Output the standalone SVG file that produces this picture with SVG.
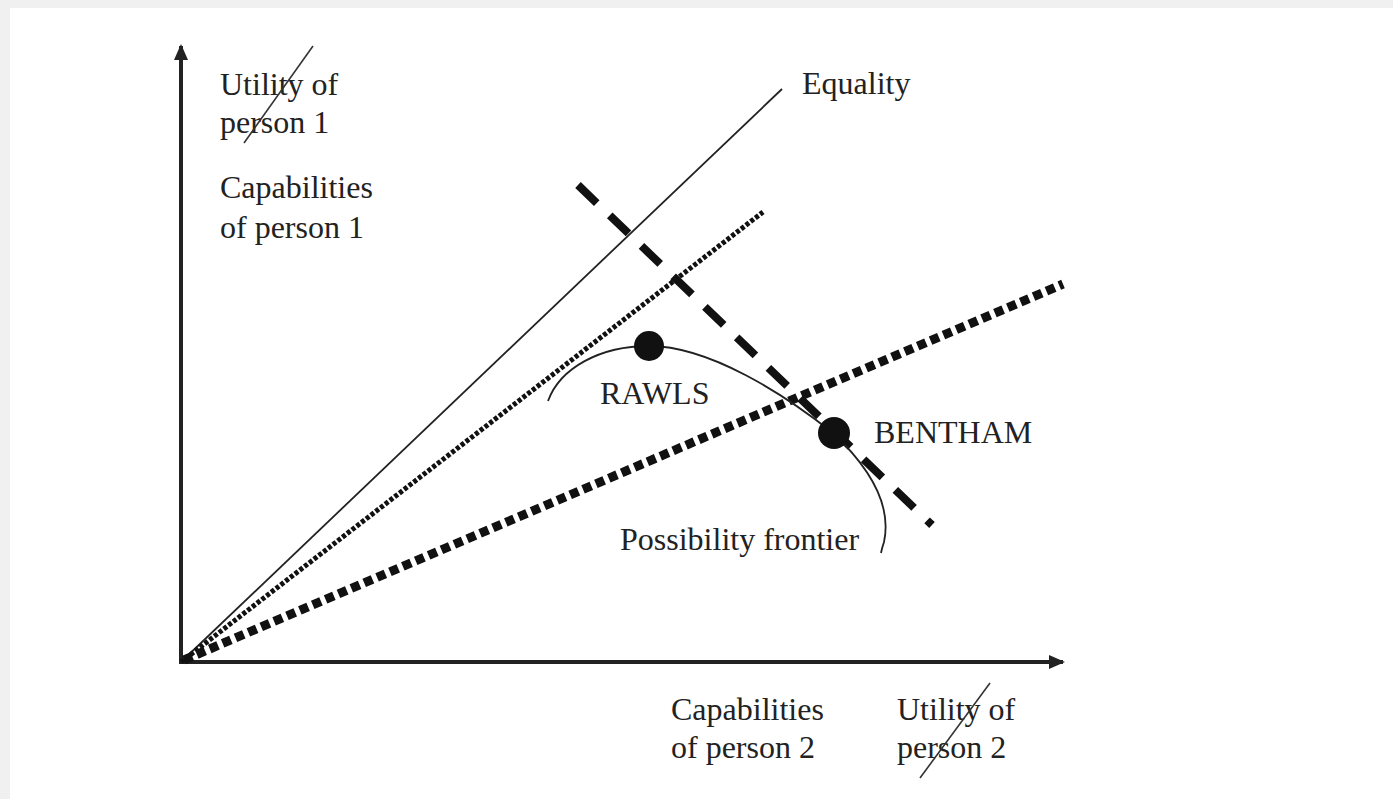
<svg xmlns="http://www.w3.org/2000/svg" width="1393" height="799" viewBox="0 0 1393 799">
<defs>
<style>
text{font-family:"Liberation Serif","Times New Roman",serif;font-size:32px;fill:#222}
.ax{stroke:#222;stroke-width:4;fill:none}
.thin{stroke:#222;stroke-width:1.8;fill:none}
.strike{stroke:#333;stroke-width:1.6}
</style>
<marker id="arr" viewBox="0 0 16 14" refX="14" refY="7" markerWidth="16" markerHeight="14" markerUnits="userSpaceOnUse" orient="auto">
<path d="M0,0 L16,7 L0,14 Z" fill="#222"/>
</marker>
</defs>
<rect x="0" y="0" width="1393" height="799" fill="#f0f0f0"/>
<rect x="10" y="8" width="1383" height="791" fill="#ffffff"/>
<g id="connectors">
<line class="ax" x1="181" y1="663" x2="181" y2="46" marker-end="url(#arr)"/>
<line class="ax" x1="179" y1="662" x2="1063" y2="662" marker-end="url(#arr)"/>
<line id="equality-line" class="thin" x1="181" y1="662" x2="782" y2="89"/>
<line id="fine-dotted" x1="181" y1="662" x2="763" y2="212" stroke="#111" stroke-width="5" stroke-dasharray="4 2"/>
<line id="thick-dotted" x1="184" y1="660" x2="1063" y2="284" stroke="#111" stroke-width="9" stroke-dasharray="9 5"/>
<line id="dashed" x1="578" y1="185" x2="932" y2="525" stroke="#111" stroke-width="8" stroke-dasharray="26 18"/>
<path id="frontier" class="thin" d="M548,401 C560,368 600,346 649,346 C710,346 785,395 833,433 C870,468 892,505 884,542 Q882,548 881,553"/>
</g>
<g id="rawls">
<circle cx="649" cy="346" r="15" fill="#111"/>
<text x="600" y="404">RAWLS</text>
</g>
<g id="bentham">
<circle cx="834" cy="433" r="16" fill="#111"/>
<text x="874" y="443">BENTHAM</text>
</g>
<g id="equality">
<text x="802" y="94">Equality</text>
</g>
<g id="frontier-label">
<text x="620" y="550">Possibility frontier</text>
</g>
<g id="y-label">
<text x="220" y="95">Utility of</text>
<text x="220" y="133">person 1</text>
<line class="strike" x1="313" y1="46" x2="244" y2="143"/>
<text x="220" y="198">Capabilities</text>
<text x="220" y="238">of person 1</text>
</g>
<g id="x-label">
<text x="671" y="720">Capabilities</text>
<text x="671" y="758">of person 2</text>
<text x="897" y="720">Utility of</text>
<text x="897" y="758">person 2</text>
<line class="strike" x1="990" y1="683" x2="920" y2="778"/>
</g>
</svg>
